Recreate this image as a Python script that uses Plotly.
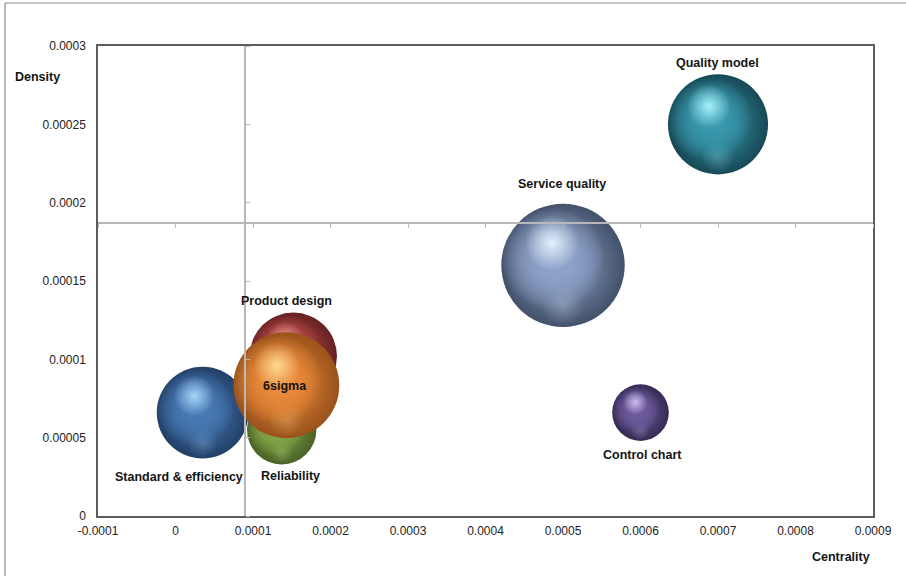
import math
import plotly.graph_objects as go

# Topic clusters: centrality (x), density (y) and paper frequency (bubble area)
topics = ["Quality model", "Service quality", "Control chart",
          "Standard & efficiency", "Product design", "Reliability", "6sigma"]
centrality = [0.0007, 0.0005, 0.0006, 0.000035, 0.000152, 0.000137, 0.000143]
density = [0.00025, 0.00016, 0.000066, 0.000066, 0.000102, 0.000055, 0.0000835]
frequency = [25, 38, 8, 21, 19, 12, 28]

# Axis ticks and the reference lines (mean centrality / mean density)
x_tick_vals = [-0.0001, 0, 0.0001, 0.0002, 0.0003, 0.0004, 0.0005, 0.0006, 0.0007, 0.0008, 0.0009]
x_tick_text = ["-0.0001", "0", "0.0001", "0.0002", "0.0003", "0.0004", "0.0005",
               "0.0006", "0.0007", "0.0008", "0.0009"]
y_tick_vals = [0, 0.00005, 0.0001, 0.00015, 0.0002, 0.00025, 0.0003]
y_tick_text = ["0", "0.00005", "0.0001", "0.00015", "0.0002", "0.00025", "0.0003"]
x_cross = 0.00009
y_cross = 0.000187

# Sphere colours: (mid tone, highlight, shadow)
palette = {
    "Quality model": ((56, 152, 173), (170, 245, 255), (10, 40, 50)),
    "Service quality": ((142, 163, 202), (232, 245, 255), (36, 46, 66)),
    "Control chart": ((108, 90, 156), (210, 195, 245), (30, 22, 52)),
    "Standard & efficiency": ((72, 121, 180), (170, 218, 255), (18, 40, 72)),
    "Product design": ((186, 74, 72), (245, 165, 160), (70, 18, 18)),
    "Reliability": ((134, 166, 72), (210, 238, 155), (48, 70, 24)),
    "6sigma": ((234, 138, 58), (255, 222, 150), (120, 58, 14)),
}

# Label offsets in pixels relative to the bubble centre
label_shift = {
    "Quality model": (-1, 61),
    "Service quality": (-1, 81),
    "Control chart": (2, -42),
    "Standard & efficiency": (-24, -64),
    "Product design": (-7, 55),
    "Reliability": (9, -46),
    "6sigma": (-1, -1),
}

W, H = 906, 576
ML, MR, MT, MB = 98, 33, 46, 60
X_RANGE = [-0.0001, 0.0009]
Y_RANGE = [0, 0.0003]
px_per_x = (W - ML - MR) / (X_RANGE[1] - X_RANGE[0])
px_per_y = (H - MT - MB) / (Y_RANGE[1] - Y_RANGE[0])

MAX_R = 61.7
fmax = max(frequency)
sizeref = 2.0 * fmax / (2 * MAX_R) ** 2


def rgba(c, a=1.0):
    return f"rgba({int(c[0])},{int(c[1])},{int(c[2])},{a})"


def mix(a, b, t):
    return tuple(a[i] + (b[i] - a[i]) * t for i in range(3))


fig = go.Figure()


def shade(cx, cy, r, dx, dy, k, center, edge):
    """Radial-gradient disc of radius k*r offset by (dx, dy)*r pixels."""
    fig.add_trace(go.Scatter(
        x=[cx + dx * r / px_per_x], y=[cy - dy * r / px_per_y], mode="markers",
        showlegend=False, hoverinfo="skip",
        marker=dict(size=2 * k * r, color=edge, opacity=1, line=dict(width=0),
                    gradient=dict(type="radial", color=center)),
    ))


for name, cx, cy, f in zip(topics, centrality, density, frequency):
    mid, light, dark = palette[name]
    r = MAX_R * math.sqrt(f / fmax)
    # body of the sphere: mid tone darkening towards the rim
    fig.add_trace(go.Scatter(
        x=[cx], y=[cy], mode="markers", name=name, showlegend=False,
        hoverinfo="text", text=[name],
        marker=dict(size=[f], sizemode="area", sizeref=sizeref,
                    color=rgba(mix(mid, dark, 0.7)), opacity=1, line=dict(width=0),
                    gradient=dict(type="radial", color=rgba(mid))),
    ))
    # reflected light along the lower rim
    shade(cx, cy, r, 0.0, 0.64, 0.34, rgba(light, 0.28), rgba(light, 0.0))
    # diffuse light from the upper left
    shade(cx, cy, r, -0.16, -0.10, 0.84, rgba(mid), rgba(mid, 0.0))
    shade(cx, cy, r, -0.16, -0.10, 0.84, rgba(mid), rgba(mid, 0.0))
    # specular highlight
    shade(cx, cy, r, -0.18, -0.36, 0.44, rgba(light, 0.95), rgba(light, 0.0))

# empty trace so the crossing reference axes get drawn
fig.add_trace(go.Scatter(x=[], y=[], xaxis="x2", yaxis="y2", showlegend=False,
                         hoverinfo="skip"))

label_font = dict(family="Liberation Sans, Arial, sans-serif", size=12.5, color="#141414")
annotations = []
for name, cx, cy in zip(topics, centrality, density):
    dx, dy = label_shift[name]
    annotations.append(dict(
        x=cx, y=cy, xref="x", yref="y", text=f"<b>{name}</b>", showarrow=False,
        xshift=dx, yshift=dy, font=label_font,
    ))

annotations.append(dict(x=-0.078, y=0.935, xref="paper", yref="paper", text="<b>Density</b>",
                        showarrow=False, xanchor="center", yanchor="middle", font=label_font))
annotations.append(dict(x=0.9587, y=-0.087, xref="paper", yref="paper", text="<b>Centrality</b>",
                        showarrow=False, xanchor="center", yanchor="middle", font=label_font))

tick_font = dict(family="Liberation Sans, Arial, sans-serif", size=12, color="#222222")
frame_x0 = (5 - ML) / (W - ML - MR)
frame_y1 = 1 + (MT - 3) / (H - MT - MB)

fig.update_layout(
    width=W, height=H,
    margin=dict(l=ML, r=MR, t=MT, b=MB, pad=0),
    paper_bgcolor="white", plot_bgcolor="white",
    xaxis=dict(range=X_RANGE, tickvals=x_tick_vals, ticktext=x_tick_text,
               showgrid=False, zeroline=False, showline=True, mirror=True,
               linecolor="#5c5c5c", linewidth=1.5, ticks="outside", ticklen=3,
               tickcolor="rgba(0,0,0,0)", tickfont=tick_font),
    yaxis=dict(range=Y_RANGE, tickvals=y_tick_vals, ticktext=y_tick_text,
               showgrid=False, zeroline=False, showline=True, mirror=True,
               linecolor="#5c5c5c", linewidth=1.5, ticks="outside", ticklen=8,
               tickcolor="rgba(0,0,0,0)", tickfont=tick_font),
    # reference axes crossing inside the plot
    xaxis2=dict(range=X_RANGE, overlaying="x", anchor="free",
                position=(y_cross - Y_RANGE[0]) / (Y_RANGE[1] - Y_RANGE[0]),
                side="bottom", tickvals=x_tick_vals, showticklabels=False,
                showgrid=False, zeroline=False, showline=True,
                linecolor="#b8b8b8", linewidth=1.5, ticks="outside", ticklen=4,
                tickcolor="#b8b8b8", tickwidth=1),
    yaxis2=dict(range=Y_RANGE, overlaying="y", anchor="free",
                position=(x_cross - X_RANGE[0]) / (X_RANGE[1] - X_RANGE[0]),
                side="right", tickvals=y_tick_vals, showticklabels=False,
                showgrid=False, zeroline=False, showline=True,
                linecolor="#b8b8b8", linewidth=1.5, ticks="outside", ticklen=4,
                tickcolor="#b8b8b8", tickwidth=1),
    annotations=annotations,
    shapes=[
        dict(type="line", xref="paper", yref="paper", x0=frame_x0, x1=1.1,
             y0=frame_y1, y1=frame_y1, line=dict(color="#8c8c8c", width=1.2), layer="below"),
        dict(type="line", xref="paper", yref="paper", x0=frame_x0, x1=frame_x0,
             y0=frame_y1, y1=-0.2, line=dict(color="#8c8c8c", width=1.2), layer="below"),
    ],
)

fig.write_html("out.html")
